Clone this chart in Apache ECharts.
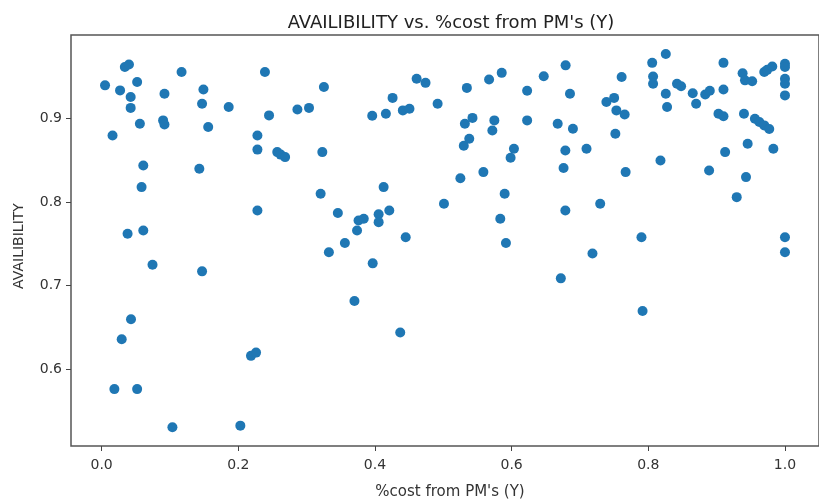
<!DOCTYPE html>
<html>
<head>
<meta charset="utf-8">
<script src="https://cdn.jsdelivr.net/npm/echarts@6/dist/echarts.min.js"></script>
<style>html,body{margin:0;padding:0;background:#fff}#c{width:819px;height:504px}</style>
</head>
<body>
<div id="c"></div>
<script>
const costFromPM = [
0.005,0.034,0.040,0.027,0.052,0.0425,0.0425,0.056,0.016,0.061,0.0585,0.038,0.061,0.092,0.090,0.092,0.117,0.149,0.147,0.156,0.143,0.186,0.239,0.245,0.228,0.228,0.228,0.257,0.262,0.2685,0.2865,0.3035,
0.3253,0.323,0.3205,0.3457,0.3326,0.356,0.3738,0.376,0.3836,0.4054,0.4054,0.4127,0.421,0.445,0.396,0.416,0.4258,0.4408,0.4505,0.461,0.474,0.4917,0.501,0.525,0.5345,0.5316,0.5427,0.530,0.538,0.5587,0.567,0.5855,0.5747,0.5718,0.6034,0.5985,0.5898,0.5834,0.5917,0.6227,0.6227,0.647,
0.679,0.6854,0.6674,0.6897,0.6786,0.676,0.6786,0.7096,0.7296,0.761,0.7387,0.750,0.7533,0.7654,0.7518,0.7668,0.790,0.8057,0.8256,0.807,0.807,0.8256,0.8275,0.8178,0.842,0.848,0.865,0.870,0.8833,0.890,0.889,0.910,0.910,0.9027,0.910,0.9124,0.9294,0.938,0.9415,0.952,0.940,0.956,0.9625,0.9697,0.977,0.9454,0.943,0.9697,0.974,0.9814,0.983,1.0,1.0,1.0,1.0,1.0,1.0,1.0,
0.672,0.7183,0.7916,0.3967,0.370,0.437,0.0745,0.147,0.043,0.0294,0.2186,0.226,0.0187,0.052,0.1036,0.203
];
const availability = [
0.940,0.962,0.965,0.934,0.944,0.926,0.913,0.894,0.880,0.844,0.818,0.762,0.766,0.930,0.898,0.893,0.956,0.935,0.918,0.890,0.840,0.914,0.956,0.904,0.880,0.863,0.790,0.860,0.857,0.854,0.911,0.913,
0.938,0.860,0.810,0.787,0.740,0.751,0.766,0.778,0.780,0.7855,0.776,0.818,0.790,0.758,0.9036,0.906,0.925,0.910,0.912,0.948,0.943,0.918,0.798,0.8286,0.937,0.894,0.901,0.8677,0.876,0.836,0.947,0.955,0.898,0.886,0.864,0.8533,0.810,0.780,0.751,0.9335,0.898,0.951,
0.964,0.930,0.894,0.888,0.862,0.841,0.790,0.864,0.798,0.950,0.920,0.925,0.910,0.905,0.882,0.836,0.758,0.967,0.9777,0.9506,0.942,0.930,0.914,0.850,0.942,0.939,0.9306,0.918,0.929,0.9335,0.838,0.967,0.935,0.906,0.903,0.860,0.806,0.9545,0.946,0.945,0.906,0.900,0.896,0.892,0.8876,0.870,0.830,0.956,0.9586,0.9626,0.864,0.966,0.962,0.948,0.942,0.928,0.758,0.740,
0.7086,0.7385,0.6695,0.7266,0.6815,0.6436,0.725,0.717,0.6596,0.6357,0.6157,0.6196,0.5758,0.5758,0.530,0.532
];
const xTicks = [0.0, 0.2, 0.4, 0.6, 0.8, 1.0];
const yTicks = [0.6, 0.7, 0.8, 0.9];
const titleText = "AVAILIBILITY vs. %cost from PM's (Y)";
const xName = "%cost from PM's (Y)";
const yName = "AVAILIBILITY";

const points = costFromPM.map((x, i) => [x, availability[i]]);
const font = 'DejaVu Sans';
const chart = echarts.init(document.getElementById('c'), null, {renderer: 'canvas'});
chart.setOption({
  animation: false,
  backgroundColor: '#fff',
  title: {
    text: titleText, left: 446, top: 9, textAlign: 'center',
    textStyle: {fontFamily: font, fontSize: 18, fontWeight: 'normal', color: '#222'}
  },
  grid: {left: 71, top: 35, width: 752, height: 411, show: true, borderColor: '#555', borderWidth: 1.5, backgroundColor: 'transparent'},
  xAxis: {
    type: 'value', min: -0.0448, max: 1.0498,
    axisLine: {show: false, onZero: false},
    splitLine: {show: false},
    axisTick: {show: true, customValues: xTicks, length: 5, inside: false, lineStyle: {color: '#444'}},
    axisLabel: {customValues: xTicks, formatter: v => v.toFixed(1), fontFamily: font, fontSize: 14, color: '#333', margin: 12}
  },
  yAxis: {
    type: 'value', min: 0.5076, max: 1.0004,
    axisLine: {show: false, onZero: false},
    splitLine: {show: false},
    axisTick: {show: true, customValues: yTicks, length: 5, inside: false, lineStyle: {color: '#444'}},
    axisLabel: {customValues: yTicks, formatter: v => v.toFixed(1), fontFamily: font, fontSize: 14, color: '#333', margin: 9}
  },
  graphic: [
    {type: 'text', x: 450, y: 492, style: {text: xName, font: '15px "DejaVu Sans"', fill: '#333', textAlign: 'center', textVerticalAlign: 'middle'}},
    {type: 'text', x: 19, y: 246, rotation: Math.PI/2, style: {text: yName, font: '14px "DejaVu Sans"', fill: '#333', textAlign: 'center', textVerticalAlign: 'middle'}}
  ],
  series: [{
    type: 'scatter', data: points, symbolSize: 10,
    itemStyle: {color: '#1f77b4', opacity: 1}
  }]
});
</script>
</body>
</html>
